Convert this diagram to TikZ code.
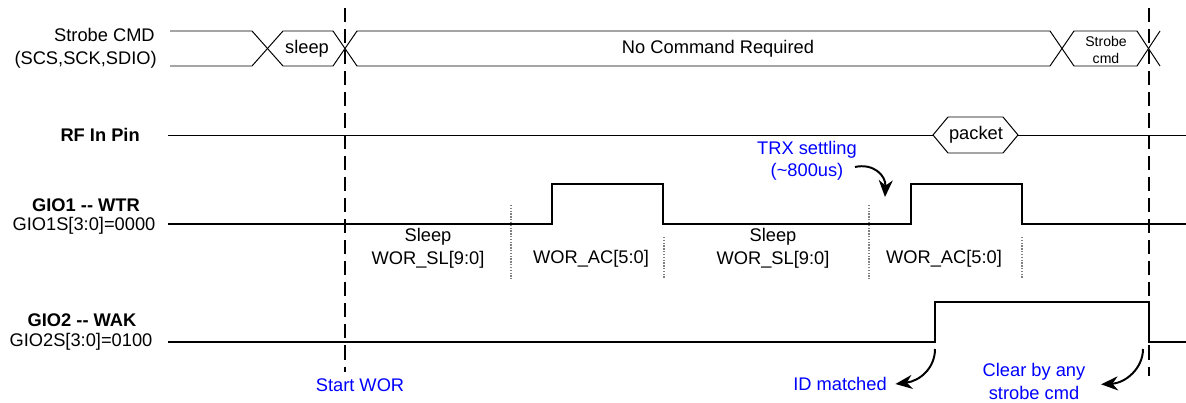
\documentclass[tikz,border=0pt]{standalone}
\usepackage{fontspec}
\setmainfont{Liberation Sans}
\usepackage{tikz}
\usetikzlibrary{arrows.meta, positioning}

\begin{document}
\begin{tikzpicture}[x=0.025cm, y=-0.025cm, >={Stealth[length=12pt, width=10pt]},
        txt/.style={font=\fontsize{13}{15}\selectfont, inner sep=0pt},
        signame/.style={font=\bfseries\fontsize{13}{15}\selectfont, inner sep=0pt},
        note/.style={font=\fontsize{13}{16}\selectfont, text=blue, align=center, inner sep=0pt},
        small/.style={font=\fontsize{10}{12}\selectfont, align=center, inner sep=0pt},
        bus/.style={line width=0.7pt},
        wave/.style={line width=2pt},
        marker/.style={line width=1.4pt, dash pattern=on 10pt off 5pt},
        guide/.style={gray, line width=0.8pt, dash pattern=on 1pt off 1pt},
        callout/.style={->, line width=1.4pt}
        ]
        \useasboundingbox (0,0) rectangle (1186,402);

        % Signal names
        \node [txt, anchor=east] (strobe) at (155,35) {Strobe CMD};
        \node [txt, anchor=east] (spi) at (157,60) {(SCS,SCK,SDIO)};
        \node [signame, anchor=east] (rf) at (140,135) {RF In Pin};
        \node [signame] (gio1) at (86,205) {GIO1 {-}{-} WTR};
        \node [txt] (gio1s) at (84,226) {GIO1S[3:0]=0000};
        \node [signame] (gio2) at (82,320) {GIO2 {-}{-} WAK};
        \node [txt] (gio2s) at (81,342) {GIO2S[3:0]=0100};

        % Strobe bus
        \draw[bus] (170,31) -- (252,31) -- (283,66) -- (333,66) -- (357,31) -- (1050,31) -- (1074,66) -- (1137,66) -- (1160,31);
        \draw[bus] (170,66) -- (252,66) -- (283,31) -- (333,31) -- (357,66) -- (1050,66) -- (1074,31) -- (1137,31) -- (1160,66);
        \node [txt] (slp) at (307,48.5) {sleep};
        \node [txt] (nocmd) at (718,48.5) {No Command Required};
        \node [small] (stb) at (1106,50) {Strobe\\cmd};

        % RF in
        \draw[bus] (168,135) -- (933,135);
        \draw[bus] (933,135) -- (948,117) -- (1003,117) -- (1018,135) -- (1003,153) -- (948,153) -- cycle;
        \draw[bus] (1018,135) -- (1186,135);
        \node [txt] (pkt) at (976,135) {packet};

        % Markers
        \draw[marker] (345,8) -- (345,372);
        \draw[marker] (1149,8) -- (1149,376);
        \draw[guide] (511,205) -- (511,279);
        \draw[guide] (664,237) -- (664,279);
        \draw[guide] (869,205) -- (869,279);
        \draw[guide] (1022,237) -- (1022,279);

        % Waves
        \draw[wave] (168,224) -- (552,224) -- (552,184) -- (663,184) -- (663,224) -- (911,224) -- (911,184) -- (1022,184) -- (1022,224) -- (1186,224);
        \draw[wave] (168,342) -- (935,342) -- (935,302) -- (1149,302) -- (1149,342) -- (1186,342);

        % Phases
        \node [txt] (sl1) at (428,237) {Sleep};
        \node [txt, below=4pt of sl1] (wsl1) {WOR\_SL[9:0]};
        \node [txt] (wac1) at (591,259) {WOR\_AC[5:0]};
        \node [txt] (sl2) at (773,237) {Sleep};
        \node [txt, below=4pt of sl2] (wsl2) {WOR\_SL[9:0]};
        \node [txt] (wac2) at (944,259) {WOR\_AC[5:0]};

        % Notes
        \node [note] (trx) at (807,161) {TRX settling\\(\textasciitilde800us)};
        \node [note] (swor) at (360,385) {Start WOR};
        \node [note] (idm) at (840,384) {ID matched};
        \node [note] (clr) at (1034,381.5) {Clear by any\\strobe cmd};

        \coordinate (trxa) at (855,167);
        \coordinate (trxb) at (885,197);
        \coordinate (idup) at (935,349);
        \coordinate (clrup) at (1143,349);

        \draw[callout] (trxa) .. controls (873,163) and (886,175) .. (trxb);
        \draw[callout] (idup) .. controls (935,368) and (920,381) .. ([xshift=6pt]idm.east);
        \draw[callout] (clrup) .. controls (1143,368) and (1126,383) .. ([xshift=11pt, yshift=-2pt]clr.east);

    \end{tikzpicture}
\end{document}
